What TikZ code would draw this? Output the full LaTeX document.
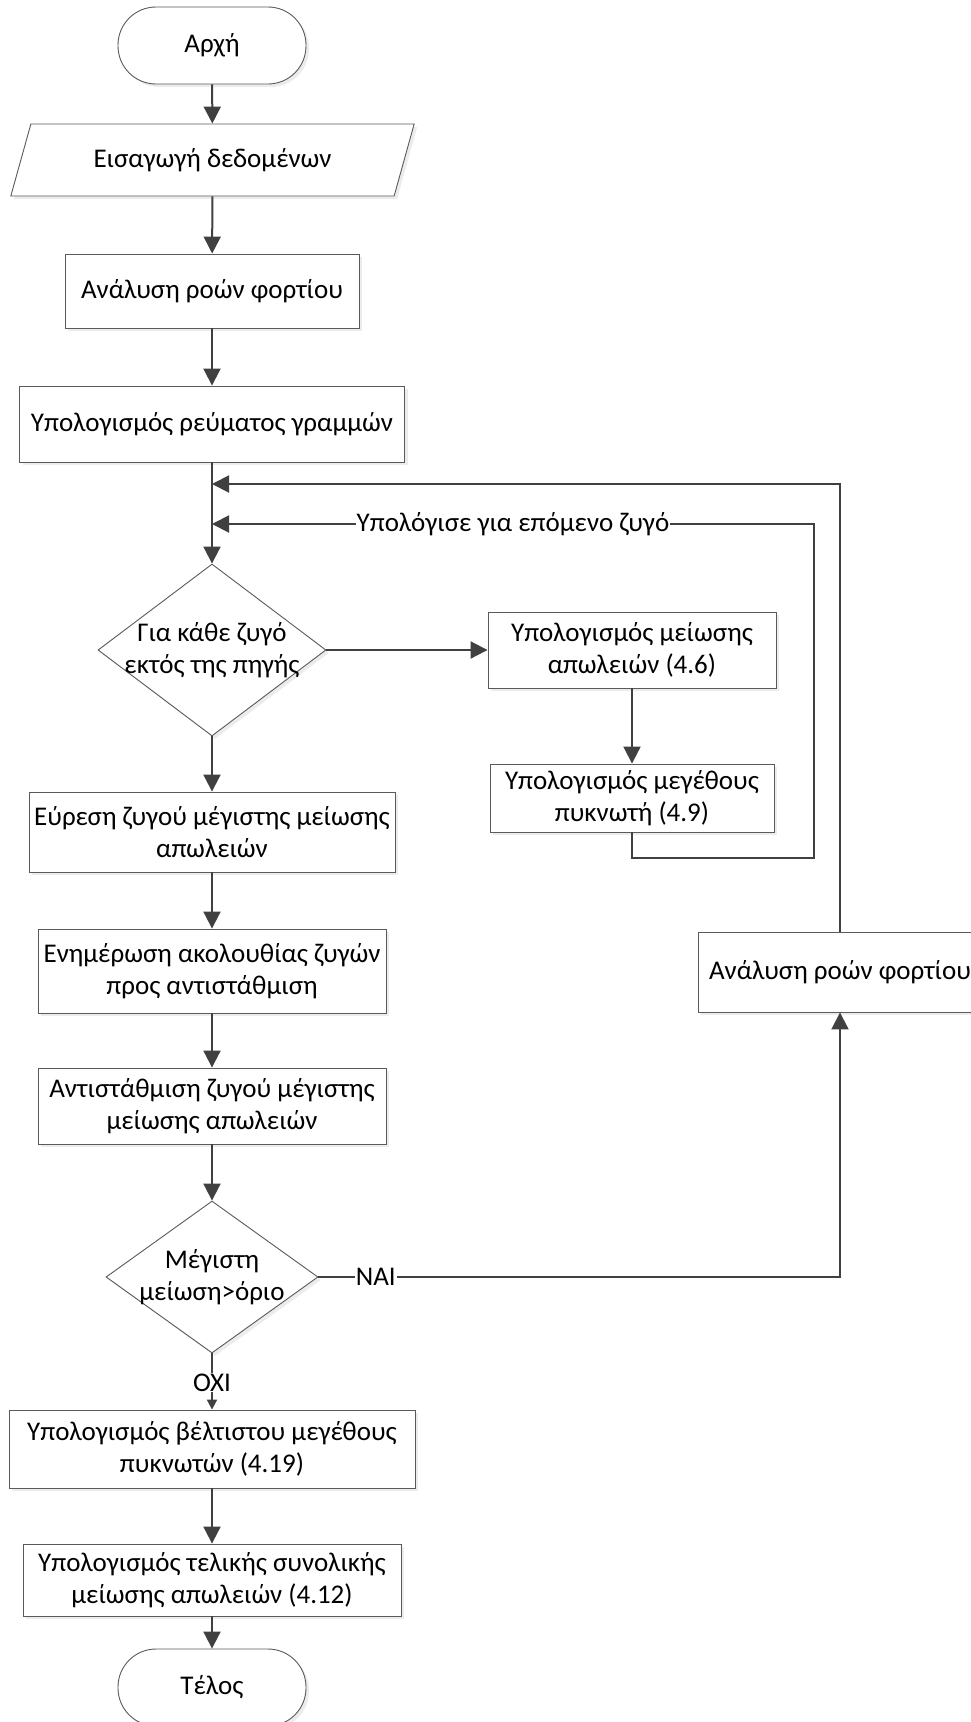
\documentclass[tikz,border=0pt]{standalone}
\usepackage{fontspec}
\setmainfont{Carlito}
\usetikzlibrary{shapes.geometric,shadows,arrows.meta}

\begin{document}
\begin{tikzpicture}[x=1pt,y=-1pt,
  font=\fontsize{27}{32}\selectfont,
  base/.style={draw=shapeGray, line width=0.9pt, fill=white, align=center, inner sep=2pt,
    drop shadow={shadow xshift=3pt, shadow yshift=-3pt, fill=black!15}},
  proc/.style={base, rectangle},
  term/.style={base, rectangle, rounded corners=38pt, minimum width=188pt, minimum height=77pt},
  io/.style={base, trapezium, trapezium left angle=64, trapezium right angle=116,
    trapezium stretches, minimum width=405pt, minimum height=72pt},
  dec/.style={base, diamond, inner sep=-8pt},
  flow/.style={draw=lineGray, line width=2pt, -{Triangle[length=17pt,width=17pt]}},
  link/.style={draw=lineGray, line width=2pt},
  lbl/.style={fill=white, inner sep=1pt}
]

% Colori
\definecolor{lineGray}{HTML}{404040}
\definecolor{shapeGray}{HTML}{5A5A5A}

\useasboundingbox (0,0) rectangle (971,1722);

% Colonna principale
\node[term] (start) at (212,45.5) {Αρχή};
\node[io] (inp) at (212.5,160) {Εισαγωγή δεδομένων};
\node[proc, minimum width=294pt, minimum height=74pt] (flow1) at (212,291) {Ανάλυση ροών φορτίου};
\node[proc, minimum width=385pt, minimum height=76pt] (curr) at (212,424) {Υπολογισμός ρεύματος γραμμών};
\node[dec, aspect=1.33, minimum width=228pt, minimum height=172pt] (dec1) at (212,650) {Για κάθε ζυγό\\εκτός της πηγής};
\node[proc, minimum width=366pt, minimum height=80pt] (find) at (212,832) {Εύρεση ζυγού μέγιστης μείωσης\\απωλειών};
\node[proc, minimum width=348pt, minimum height=84pt] (upd) at (212,971) {Ενημέρωση ακολουθίας ζυγών\\προς αντιστάθμιση};
\node[proc, minimum width=348pt, minimum height=76pt] (comp) at (212,1106) {Αντιστάθμιση ζυγού μέγιστης\\μείωσης απωλειών};
\node[dec, aspect=1.4, minimum width=212pt, minimum height=152pt] (dec2) at (212,1277) {Μέγιστη\\μείωση>όριο};
\node[proc, minimum width=406pt, minimum height=78pt] (opt) at (212,1449) {Υπολογισμός βέλτιστου μεγέθους\\πυκνωτών (4.19)};
\node[proc, minimum width=378pt, minimum height=72pt] (fin) at (212,1580) {Υπολογισμός τελικής συνολικής\\μείωσης απωλειών (4.12)};
\node[term] (stop) at (212,1687.5) {Τέλος};

% Colonna destra
\node[proc, minimum width=288pt, minimum height=76pt] (loss) at (632,650) {Υπολογισμός μείωσης\\απωλειών (4.6)};
\node[proc, minimum width=284pt, minimum height=68pt] (cap) at (632,798) {Υπολογισμός μεγέθους\\πυκνωτή (4.9)};
\node[proc, minimum width=284pt, minimum height=80pt] (flow2) at (840,972) {Ανάλυση ροών φορτίου};

% Punti dei ritorni
\coordinate (j1) at (212,524);
\coordinate (j2) at (212,484);
\coordinate (loopA) at (814,858);
\coordinate (loopB) at (814,524);

% Frecce
\draw[flow] (start) -- (inp);
\draw[flow] (inp) -- (flow1);
\draw[flow] (flow1) -- (curr);
\draw[flow] (curr) -- (dec1);
\draw[flow] (dec1) -- (find);
\draw[flow] (find) -- (upd);
\draw[flow] (upd) -- (comp);
\draw[flow] (comp) -- (dec2);
\draw[flow] (opt) -- (fin);
\draw[flow] (fin) -- (stop);
\draw[flow] (dec1) -- (loss);
\draw[flow] (loss) -- (cap);

% Ritorni
\draw[flow] (cap.south) |- (loopA) -- (loopB) -- node[lbl] {Υπολόγισε για επόμενο ζυγό} (j1);
\draw[flow] (flow2.north) |- (j2);

% Uscite della decisione
\draw[flow] (dec2.east) -- node[lbl, pos=0.11] {ΝΑΙ} (dec2.east -| flow2.south) -- (flow2.south);
\draw[link, -{Triangle[length=10pt,width=10pt]}] (dec2.south) -- node[lbl, pos=0.52] {ΟΧΙ} (opt.north);

\end{tikzpicture}
\end{document}
